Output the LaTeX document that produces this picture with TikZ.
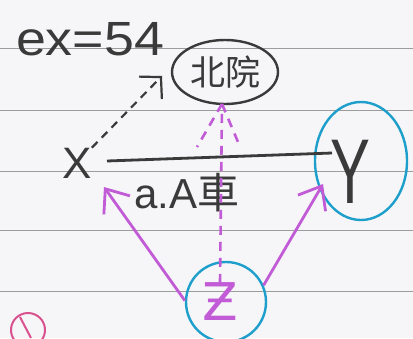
\documentclass[tikz,border=0pt]{standalone}
\usepackage{fontspec}
\setmainfont{Liberation Sans}
\newfontfamily\cjk{Noto Sans CJK SC}
\newfontfamily\dvs{DejaVu Sans}
\usetikzlibrary{arrows.meta,shapes.geometric}
\definecolor{paper}{HTML}{F6F6F8}
\definecolor{rule}{HTML}{9C9C9C}
\definecolor{ink}{HTML}{3A3A3A}
\definecolor{cyanink}{HTML}{1E9FCB}
\definecolor{purp}{HTML}{C25BD6}
\definecolor{pinkink}{HTML}{D9528F}
\begin{document}
\begin{tikzpicture}[x=1pt,y=-1pt,
  hand/.style={font=\fontsize{44}{48}\selectfont, text=ink, inner sep=0pt},
  blueloop/.style={draw=cyanink, line width=2.4pt, inner sep=0pt},
  blackline/.style={draw=ink, line width=2.8pt},
  purpline/.style={draw=purp, line width=2.8pt},
  purptip/.style={-{Straight Barb[length=20pt,width=32pt]}},
  purpdash/.style={draw=purp, line width=2.6pt, dash pattern=on 9pt off 7pt}]
\fill[paper] (0,0) rectangle (413,338);
\useasboundingbox (0,0) rectangle (413,338);
\foreach \yy in {48,110,171,230,291} \draw[rule, line width=1pt] (0,\yy) -- (413,\yy);

% texts
\node[hand, font=\fontsize{48}{52}\selectfont, xscale=1.12] (ex) at (90,39) {ex=54};
\node[ellipse, draw=ink, line width=2.4pt, minimum width=106pt, minimum height=64pt,
      inner sep=0pt, font=\cjk\fontsize{35}{37}\selectfont, text=ink] (bei) at (225,72) {北院};
\node[hand] (X) at (77,163) {X};
\node[hand, font=\fontsize{42}{46}\selectfont] (lab) at (187,193) {a.A{\cjk 車}};
\node[ellipse, blueloop, minimum width=92pt, minimum height=118pt] (yc) at (361,161) {};
\node[hand, font=\fontsize{46}{50}\selectfont, xscale=1.3, yscale=2] (Y) at (350,172) {Y};
\node[circle, blueloop, minimum size=80pt] (zc) at (226,302) {};
\node[font=\dvs\fontsize{52}{56}\selectfont, text=purp, inner sep=0pt] (Z) at (220,302) {Ƶ};

% main line
\coordinate (la) at (107,161);
\coordinate (lb) at (332,153);
\draw[blackline] (la) -- (lb);

% black dashed arrow X -> bei
\coordinate (t1) at (162,76);
\draw[ink, line width=2.2pt, dash pattern=on 8pt off 6pt,
      -{Straight Barb[length=15pt,width=32pt]}] (X.north east) -- (t1);

% purple arrows
\coordinate (tx) at (104,187);
\coordinate (ty) at (323,184);
\draw[purpline, purptip] (zc.178) -- (tx);
\draw[purpline, purptip] (zc.24) -- (ty);

% purple dashed arrow Z -> bei
\coordinate (tb) at (222,104);
\draw[purpdash] (Z.north) -- (tb);
\draw[purpdash] (tb) -- ++(-25,43);
\draw[purpdash] (tb) -- ++(16,38);

% pink mark
\draw[pinkink, line width=2pt] (28,330) circle (17);
\draw[pinkink, line width=2pt] (20,317) -- (31,338);
\end{tikzpicture}
\end{document}
